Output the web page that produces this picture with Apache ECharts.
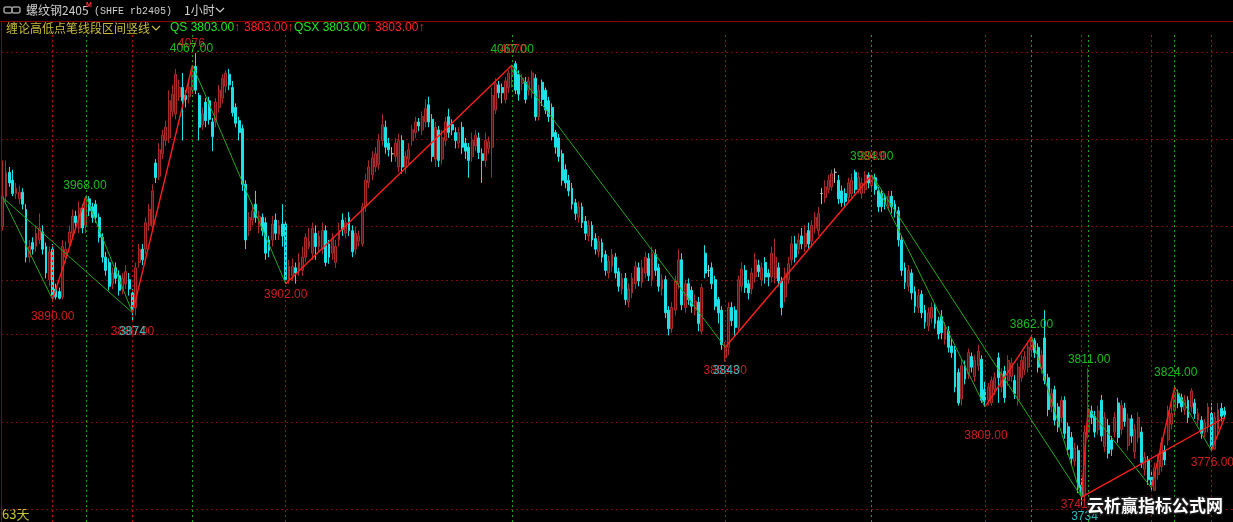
<!DOCTYPE html>
<html><head><meta charset="utf-8">
<script src="https://cdn.jsdelivr.net/npm/echarts@6/dist/echarts.min.js"></script>
<style>html,body{margin:0;padding:0;background:#000;overflow:hidden}#c{width:1233px;height:522px}</style>
</head><body><div id="c"></div>
<script>
// ---- data ----
const slotCount = 370;
// each row: [open, close, low, high]
const ohlc = [
[3945,3968,3942,3995],[3968,3986,3962,3995],[3986,3978,3975,3990],[3980,3970,3968,3988],[3970,3974,3966,3978],
[3966,3971,3962,3976],[3971,3962,3958,3974],[3958,3922,3918,3962],[3922,3930,3918,3935],[3933,3928,3924,3937],
[3930,3940,3926,3946],[3935,3944,3932,3955],[3941,3928,3924,3946],[3930,3910,3906,3933],[3905,3926,3900,3930],
[3928,3893,3890,3932],[3898,3892,3890,3902],[3896,3891,3890,3899],[3892,3930,3890,3935],[3922,3928,3918,3934],
[3933,3941,3930,3946],[3940,3953,3937,3958],[3953,3948,3944,3957],[3944,3959,3940,3964],[3959,3944,3940,3962],
[3946,3966,3940,3968],[3966,3957,3953,3968],[3960,3952,3948,3963],[3962,3952,3948,3965],[3952,3937,3933,3955],
[3937,3922,3918,3940],[3922,3912,3908,3926],[3918,3900,3897,3921],[3902,3910,3898,3914],[3914,3906,3902,3918],
[3908,3897,3893,3912],[3898,3906,3894,3910],[3902,3911,3898,3916],[3905,3898,3893,3910],[3895,3882,3874,3898],
[3884,3914,3878,3918],[3918,3928,3914,3932],[3928,3920,3916,3932],[3928,3948,3924,3952],[3946,3958,3942,3962],
[3945,3972,3942,3977],[3993,3982,3978,3996],[3983,4003,3980,4008],[4000,4014,3996,4018],[4010,4020,4006,4025],
[4012,4040,4008,4048],[4032,4045,4028,4052],[4030,4060,4026,4064],[4043,4050,4040,4056],[4050,4040,4010,4061],
[4044,4041,4035,4048],[4043,4050,4038,4055],[4048,4062,4045,4067],[4066,4048,4045,4076],[4044,4020,4010,4046],
[4022,4030,4018,4035],[4039,4025,4020,4042],[4040,4026,4022,4043],[4024,4013,4002,4027],[4024,4039,4020,4042],
[4035,4048,4031,4052],[4042,4057,4038,4060],[4051,4061,4046,4063],[4060,4052,4048,4064],[4050,4031,4028,4055],
[4035,4023,4020,4038],[4025,4016,4010,4028],[4019,3977,3972,4022],[3977,3935,3928,3980],[3942,3952,3938,3956],
[3950,3957,3946,3962],[3962,3952,3948,3972],[3945,3953,3940,3957],[3952,3942,3938,3955],[3948,3925,3920,3952],
[3935,3927,3922,3938],[3935,3947,3930,3953],[3950,3940,3935,3955],[3939,3946,3935,3950],[3947,3938,3930,3962],
[3947,3905,3902,3950],[3905,3915,3902,3920],[3908,3915,3904,3921],[3914,3910,3902,3918],[3912,3918,3908,3925],
[3912,3922,3908,3930],[3922,3937,3918,3940],[3930,3934,3928,3944],[3925,3944,3920,3948],[3940,3930,3920,3946],
[3930,3938,3926,3942],[3928,3942,3924,3948],[3942,3918,3915,3946],[3932,3922,3917,3935],[3925,3936,3920,3940],
[3918,3930,3914,3935],[3935,3942,3930,3948],[3950,3943,3938,3955],[3940,3948,3936,3952],[3952,3942,3938,3956],
[3942,3926,3922,3946],[3928,3940,3924,3945],[3934,3938,3930,3942],[3932,3960,3930,3963],[3960,3980,3956,3985],
[3978,3990,3974,3995],[3984,3997,3980,4002],[3990,4000,3986,4005],[3992,4010,3988,4015],[4010,4022,4006,4030],
[4020,4005,4000,4025],[4008,4003,3998,4012],[4000,4000,3994,4005],[3998,4008,3994,4012],[3990,4010,3986,4015],
[4010,3990,3985,4014],[3990,3998,3985,4002],[3996,4003,3992,4008],[4010,4018,4006,4022],[4016,4024,4012,4028],
[4024,4021,4017,4027],[4018,4028,4014,4032],[4024,4034,4020,4041],[4037,4024,4020,4043],[4026,3998,3994,4030],
[3996,4020,3990,4024],[4018,3995,3990,4021],[3996,4012,3992,4018],[4010,4024,4006,4028],[4028,4016,4012,4034],
[4022,4018,4014,4026],[4016,4010,4004,4020],[4008,4016,4004,4020],[4020,4005,4000,4024],[4008,4002,3996,4012],
[4005,3995,3982,4008],[3998,4010,3994,4016],[4006,4014,4002,4018],[4012,4001,3996,4016],[4000,3995,3978,4004],
[3995,4010,3990,4016],[4004,4009,4000,4013],[4005,4044,3982,4050],[4033,4053,4030,4057],[4052,4046,4042,4055],
[4050,4046,4038,4053],[4041,4055,4038,4058],[4050,4061,4046,4063],[4060,4066,4050,4067],[4068,4048,4045,4070],
[4060,4045,4040,4063],[4053,4057,4048,4060],[4054,4041,4038,4058],[4048,4055,4044,4058],[4046,4061,4042,4063],
[4057,4028,4025,4060],[4028,4048,4025,4052],[4054,4041,4036,4056],[4048,4033,4030,4050],[4040,4028,4024,4043],
[4035,4013,4010,4038],[4016,4005,4000,4018],[4012,3998,3994,4015],[4000,3980,3976,4003],[3988,3978,3974,3992],
[3980,3972,3968,3984],[3974,3962,3958,3978],[3963,3955,3950,3966],[3952,3960,3948,3964],[3960,3948,3944,3963],
[3949,3940,3935,3953],[3938,3946,3934,3950],[3946,3935,3930,3949],[3936,3928,3924,3940],[3926,3934,3922,3938],
[3933,3922,3918,3936],[3924,3912,3908,3927],[3910,3919,3906,3923],[3915,3924,3911,3928],[3922,3910,3906,3925],
[3911,3900,3896,3914],[3898,3906,3894,3910],[3906,3890,3886,3910],[3888,3898,3884,3902],[3895,3906,3891,3910],
[3902,3915,3898,3919],[3914,3904,3900,3918],[3903,3914,3899,3920],[3910,3922,3906,3926],[3921,3908,3904,3925],
[3905,3925,3900,3930],[3924,3912,3908,3928],[3914,3900,3896,3917],[3898,3905,3893,3909],[3905,3880,3876,3908],
[3882,3868,3863,3885],[3868,3884,3865,3888],[3882,3904,3878,3908],[3902,3920,3898,3928],[3920,3886,3882,3925],
[3884,3902,3880,3905],[3902,3890,3886,3906],[3897,3885,3880,3900],[3882,3889,3878,3894],[3888,3872,3866,3892],
[3866,3899,3864,3902],[3925,3910,3906,3931],[3912,3912,3907,3916],[3914,3902,3898,3918],[3905,3885,3882,3908],
[3890,3880,3872,3892],[3882,3856,3852,3885],[3846,3854,3843,3858],[3854,3884,3848,3888],[3884,3874,3870,3888],
[3882,3869,3862,3885],[3869,3905,3866,3908],[3900,3913,3896,3918],[3912,3899,3895,3916],[3902,3895,3890,3905],
[3898,3910,3894,3914],[3907,3920,3903,3925],[3916,3911,3907,3920],[3905,3914,3900,3918],[3918,3907,3902,3922],
[3910,3907,3900,3913],[3907,3925,3903,3930],[3906,3922,3902,3936],[3914,3904,3900,3918],[3904,3884,3878,3907],
[3892,3910,3888,3914],[3905,3917,3902,3922],[3920,3932,3916,3938],[3932,3922,3918,3938],[3928,3935,3924,3940],
[3938,3932,3928,3944],[3930,3940,3926,3946],[3942,3932,3928,3948],[3934,3946,3930,3950],[3944,3952,3940,3956],
[3942,3955,3938,3960],[3970,3970,3962,3974],[3967,3975,3963,3980],[3973,3980,3970,3984],[3975,3985,3972,3988],
[3986,3986,3978,3989],[3980,3966,3962,3984],[3972,3963,3960,3976],[3970,3964,3960,3974],[3967,3978,3963,3982],
[3970,3980,3966,3985],[3986,3973,3970,3988],[3973,3982,3970,3986],[3970,3978,3966,3982],[3973,3984,3970,3987],
[3984,3978,3974,3986],[3976,3983,3972,3984],[3982,3973,3969,3985],[3972,3960,3956,3975],[3970,3960,3956,3973],
[3967,3962,3958,3970],[3961,3968,3957,3972],[3968,3960,3955,3972],[3962,3957,3952,3965],[3957,3935,3930,3960],
[3935,3912,3908,3938],[3914,3903,3898,3918],[3900,3912,3896,3916],[3910,3895,3890,3913],[3896,3885,3880,3900],
[3884,3893,3880,3898],[3894,3880,3876,3897],[3882,3873,3868,3886],[3870,3880,3866,3884],[3876,3884,3872,3888],
[3884,3872,3868,3887],[3874,3864,3860,3877],[3877,3865,3860,3882],[3860,3869,3856,3873],[3866,3854,3850,3870],
[3855,3850,3846,3860],[3852,3824,3820,3855],[3835,3812,3810,3838],[3815,3840,3810,3845],[3840,3830,3826,3844],
[3834,3850,3830,3853],[3847,3839,3835,3850],[3832,3844,3828,3848],[3840,3851,3836,3856],[3845,3814,3812,3848],
[3822,3813,3809,3828],[3814,3824,3810,3827],[3812,3829,3810,3832],[3822,3831,3818,3835],[3846,3831,3812,3850],
[3824,3834,3820,3838],[3836,3816,3812,3840],[3829,3844,3825,3848],[3832,3842,3828,3846],[3829,3819,3815,3833],
[3814,3839,3810,3842],[3831,3844,3828,3848],[3837,3847,3833,3851],[3839,3854,3835,3858],[3852,3860,3848,3862],
[3859,3850,3846,3861],[3854,3839,3835,3857],[3838,3848,3834,3852],[3861,3829,3826,3882],[3831,3807,3802,3834],
[3809,3819,3805,3823],[3822,3799,3795,3825],[3809,3794,3790,3812],[3801,3814,3797,3817],[3814,3789,3785,3817],
[3794,3777,3773,3797],[3786,3770,3765,3790],[3768,3778,3764,3782],[3776,3748,3744,3780],[3750,3742,3734,3755],
[3742,3790,3738,3795],[3790,3806,3785,3838],[3806,3801,3796,3810],[3802,3790,3786,3806],[3792,3806,3788,3810],
[3814,3787,3783,3818],[3779,3801,3775,3805],[3795,3774,3770,3800],[3784,3777,3772,3787],[3790,3801,3786,3805],
[3812,3786,3782,3816],[3792,3810,3788,3814],[3808,3798,3794,3812],[3780,3800,3776,3804],[3800,3787,3782,3803],
[3775,3792,3770,3796],[3786,3801,3782,3805],[3790,3767,3763,3794],[3762,3771,3757,3775],[3769,3754,3750,3772],
[3756,3750,3746,3760],[3746,3763,3746,3767],[3758,3769,3754,3773],[3764,3782,3760,3786],[3776,3769,3765,3780],
[3784,3806,3780,3810],[3796,3804,3792,3812],[3806,3820,3802,3824],[3819,3812,3808,3822],[3816,3809,3805,3819],
[3807,3814,3803,3818],[3814,3801,3797,3817],[3809,3821,3805,3823],[3812,3804,3800,3815],[3799,3804,3795,3808],
[3799,3789,3785,3802],[3790,3797,3786,3800],[3794,3809,3790,3812],[3804,3779,3776,3812],[3777,3801,3777,3805],
[3792,3807,3788,3812],[3808,3802,3798,3812],[3806,3803,3800,3809]
];
// zigzag (笔) turning points: candle index and value
const pivotIdx = [0, 15, 25, 39, 57, 85, 153, 217, 261, 295, 309, 324, 326, 345, 352, 363, 367];
const pivotVal = [3967, 3890, 3968, 3880, 4067, 3902, 4067, 3854, 3984, 3809, 3862, 3741, 3808, 3748, 3824, 3776, 3801];
// 线段: pairs of pivot positions
const segFrom = [0, 8, 11];
const segTo   = [3, 11, 16];
// vertical interval lines
const lowLineIdx  = [15, 39, 85, 217, 295, 324, 345, 363];
const highLineIdx = [25, 57, 153, 261, 309, 326, 352];
// horizontal grid levels
const gridLevels = [4076.8, 4011.2, 3945.5, 3904.8, 3864.0, 3797.6, 3732.0];
// pivot labels
const labIdx    = [25, 15, 39, 39, 57, 57, 85, 153, 153, 217, 217, 261, 261, 295, 309, 324, 324, 326, 352, 363];
const labAnchor = [3968, 3890, 3880, 3880, 4067, 4067, 3902, 4067, 4067, 3854, 3854, 3984, 3984, 3809, 3862, 3741, 3741, 3808, 3824, 3776];
const labText   = ['3968.00','3890.00','3880.00','3874','4076','4067.00','3902.00','4067.00','4070','3853.00','3843','3984.00','3989','3809.00','3862.00','3741.00','3734','3811.00','3824.00','3776.00'];
const labKind   = ['g','r','r','c','r','g','r','g','r','r','c','g','r','r','g','r','c','g','g','r'];

// ---- layout / styles ----
const labOffset = [[-1,-11],[0,17],[0,19],[0,19],[-1,-21],[-1,-16],[0,11],[0,-15],[1,-15],[0,23],[1,23],[0,-18],[0,-18],[1,29],[0,-12],[1,8],[3,20],[1,-49],[1,-14],[1,12]];
const kindColor = {g:'#22e622', r:'#ff2424', c:'#3fe3e8'};
const UP_FILL = '#5e1212', UP_EDGE = '#a82a2a', DN = '#1ce2e8';
const RED_LINE = '#ff1c1c', GREEN_LINE = '#1faa1f';

const cats = [];
for (let i = 0; i < slotCount; i++) cats.push(String(i));

const strokes = [];
for (let k = 0; k < pivotIdx.length - 1; k++) {
  const up = pivotVal[k + 1] > pivotVal[k];
  strokes.push({coords: [[pivotIdx[k], pivotVal[k]], [pivotIdx[k + 1], pivotVal[k + 1]]],
    lineStyle: {color: up ? RED_LINE : GREEN_LINE, width: up ? 1.4 : 1}});
}
for (let s = 0; s < segFrom.length; s++) {
  const a = segFrom[s], b = segTo[s];
  const up = pivotVal[b] > pivotVal[a];
  strokes.push({coords: [[pivotIdx[a], pivotVal[a]], [pivotIdx[b], pivotVal[b]]],
    lineStyle: {color: up ? RED_LINE : GREEN_LINE, width: up ? 1.4 : 1}});
}

const markData = [];
lowLineIdx.forEach(i => markData.push({xAxis: i, lineStyle: {color: '#b80c0c', type: [2, 3], width: 1}}));
highLineIdx.forEach(i => markData.push({xAxis: i, lineStyle: {color: '#14a814', type: [2, 3], width: 1}}));
const gridMarks = gridLevels.map(v => ({yAxis: v, lineStyle: {color: '#7a0a0a', type: [2, 3], width: 1}}));

const labelData = labIdx.map((idx, k) => ({
  value: [idx, labAnchor[k]],
  label: {show: true, position: 'inside', formatter: labText[k], color: kindColor[labKind[k]],
          offset: labOffset[k], fontSize: 12, fontFamily: 'Liberation Sans, Arial, sans-serif'}
}));

const chart = echarts.init(document.getElementById('c'), null, {renderer: 'canvas'});
const hdrFont = '12px "Noto Sans CJK SC", sans-serif';
const numFont = '12px "Liberation Sans", Arial, sans-serif';
chart.setOption({
  backgroundColor: '#000',
  animation: false,
  grid: {left: 1, right: 0, top: 34, bottom: 0},
  xAxis: {type: 'category', data: cats, show: false, boundaryGap: true},
  yAxis: {type: 'value', min: 3722.15, max: 4090.39, show: false, splitLine: {show: false}},
  series: [
    {type: 'line', data: [], silent: true, z: 1,
     markLine: {silent: true, symbol: 'none', label: {show: false}, z: 1, animation: false, data: gridMarks}},
    {type: 'candlestick', data: ohlc, barWidth: 2.4, z: 2, large: false,
     itemStyle: {color: UP_FILL, borderColor: UP_EDGE, color0: DN, borderColor0: DN,
                 borderColorDoji: '#c0c0c0', borderWidth: 1},
     markLine: {silent: true, symbol: 'none', label: {show: false}, z: 3, animation: false, data: markData}},
    {type: 'lines', coordinateSystem: 'cartesian2d', data: strokes, silent: true, z: 4,
     lineStyle: {width: 1, opacity: 1}},
    {type: 'scatter', data: labelData, symbolSize: 0, silent: true, z: 6}
  ],
  graphic: [
    {type: 'line', shape: {x1: 0, y1: 21.5, x2: 1233, y2: 21.5}, style: {stroke: '#8c0000', lineWidth: 1}, silent: true},
    {type: 'line', shape: {x1: 1.5, y1: 21, x2: 1.5, y2: 522}, style: {stroke: '#8c0000', lineWidth: 1}, silent: true},
    {type: 'rect', shape: {x: 4, y: 7, width: 8, height: 6, r: 2}, style: {fill: 'none', stroke: '#9a9a9a', lineWidth: 1.5}},
    {type: 'rect', shape: {x: 12, y: 7, width: 8, height: 6, r: 2}, style: {fill: 'none', stroke: '#9a9a9a', lineWidth: 1.5}},
    {type: 'text', x: 26, y: 10, style: {text: '螺纹钢2405', fill: '#cfcfcf', font: hdrFont, verticalAlign: 'middle'}},
    {type: 'text', x: 86, y: 5, style: {text: 'M', fill: '#ff3030', font: 'bold 7px "Liberation Sans", sans-serif', verticalAlign: 'middle'}},
    {type: 'text', x: 94, y: 11, style: {text: '(SHFE rb2405)', fill: '#cfcfcf', font: '10px "Liberation Mono", monospace', verticalAlign: 'middle'}},
    {type: 'text', x: 184, y: 10, style: {text: '1小时', fill: '#cfcfcf', font: hdrFont, verticalAlign: 'middle'}},
    {type: 'polyline', shape: {points: [[216, 8], [220, 12], [224, 8]]}, style: {stroke: '#cfcfcf', lineWidth: 1.2, fill: 'none'}},
    {type: 'text', x: 6, y: 28, style: {text: '缠论高低点笔线段区间竖线', fill: '#c8bd3a', font: hdrFont, verticalAlign: 'middle'}},
    {type: 'polyline', shape: {points: [[152, 26], [156, 30], [160, 26]]}, style: {stroke: '#c8bd3a', lineWidth: 1.2, fill: 'none'}},
    {type: 'text', x: 170, y: 28, style: {text: 'QS 3803.00', fill: '#22e622', font: numFont, verticalAlign: 'middle'}},
    {type: 'text', x: 234, y: 28, style: {text: '↑', fill: '#ff2424', font: numFont, verticalAlign: 'middle'}},
    {type: 'text', x: 244, y: 28, style: {text: '3803.00↑', fill: '#ff2424', font: numFont, verticalAlign: 'middle'}},
    {type: 'text', x: 294, y: 28, style: {text: 'QSX 3803.00', fill: '#22e622', font: numFont, verticalAlign: 'middle'}},
    {type: 'text', x: 365, y: 28, style: {text: '↑', fill: '#ff2424', font: numFont, verticalAlign: 'middle'}},
    {type: 'text', x: 375, y: 28, style: {text: '3803.00↑', fill: '#ff2424', font: numFont, verticalAlign: 'middle'}},
    {type: 'text', x: 2, y: 514, style: {text: '63天', fill: '#c8c832', font: '13px "Noto Sans CJK SC", sans-serif', verticalAlign: 'middle'}},
    {type: 'text', x: 1087, y: 506, z: 100,
     style: {text: '云析赢指标公式网', fill: '#ffffff', font: 'bold 17px "Noto Sans CJK SC", sans-serif', verticalAlign: 'middle',
             stroke: '#1a1a1a', lineWidth: 3, strokeFirst: true}}
  ]
});
</script>
</body></html>
